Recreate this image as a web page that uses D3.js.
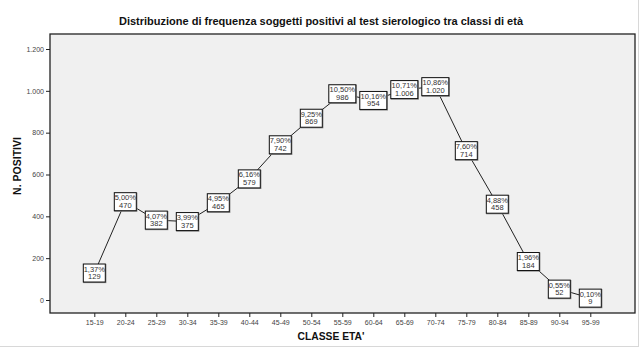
<!DOCTYPE html>
<html><head><meta charset="utf-8">
<script src="https://cdn.jsdelivr.net/npm/d3@7"></script>
<style>body{margin:0;background:#fff}svg{display:block}</style>
</head><body>
<script>
const categories = ["15-19","20-24","25-29","30-34","35-39","40-44","45-49","50-54","55-59","60-64","65-69","70-74","75-79","80-84","85-89","90-94","95-99"];
const counts = [129,470,382,375,465,579,742,869,986,954,1006,1020,714,458,184,52,9];
const percents = ["1,37%","5,00%","4,07%","3,99%","4,95%","6,16%","7,90%","9,25%","10,50%","10,16%","10,71%","10,86%","7,60%","4,88%","1,96%","0,55%","0,10%"];
const yTicks = [0,200,400,600,800,1000,1200];

const W = 642, H = 352;
const svg = d3.select("body").append("svg").attr("width", W).attr("height", H);
const frame = {l:50, t:34, r:635, b:313};
const FONT = "Liberation Sans, Arial, sans-serif";

// faint outer borders
svg.append("line").attr("x1",638.5).attr("x2",638.5).attr("y1",0).attr("y2",346).attr("stroke","#d8d8d8");
svg.append("line").attr("x1",0).attr("x2",639).attr("y1",346.5).attr("y2",346.5).attr("stroke","#d8d8d8");

svg.append("rect").attr("x",frame.l).attr("y",frame.t).attr("width",frame.r-frame.l).attr("height",frame.b-frame.t)
  .attr("fill","#f0f0f0").attr("stroke","#222").attr("stroke-width",1.3);

const x = d3.scalePoint().domain(categories).range([94.3, 590.3]);
const y = d3.scaleLinear().domain([0,1200]).range([300, 49]);

const fmt = v => d3.format(",")(v).replace(/,/g,".");

// axes
const yAxis = svg.append("g").attr("transform",`translate(${frame.l},0)`)
  .call(d3.axisLeft(y).tickValues(yTicks).tickSize(4).tickFormat(fmt));
const xAxis = svg.append("g").attr("transform",`translate(0,${frame.b})`)
  .call(d3.axisBottom(x).tickSize(4).tickPadding(3));
[yAxis,xAxis].forEach(a=>{
  a.select(".domain").remove();
  a.selectAll("line").attr("stroke","#222");
  a.selectAll("text").attr("font-family",FONT).attr("font-size",7).attr("fill","#444");
});
yAxis.selectAll("text").attr("dx",1);

// line
svg.append("path").datum(counts)
  .attr("d", d3.line().x((d,i)=>x(categories[i])).y(d=>y(d)))
  .attr("fill","none").attr("stroke","#222").attr("stroke-width",1);

// labels
const g = svg.append("g").selectAll("g").data(counts).join("g")
  .attr("transform",(d,i)=>`translate(${x(categories[i])},${y(d)})`);
const bw = i => percents[i].length > 5 ? 27 : 22;
g.append("rect").attr("x",(d,i)=>-bw(i)/2+0.5).attr("y",-8.5).attr("width",(d,i)=>bw(i)).attr("height",18)
  .attr("fill","none").attr("stroke","#888").attr("stroke-width",1.2);
g.append("rect").attr("x",(d,i)=>-bw(i)/2).attr("y",-9).attr("width",(d,i)=>bw(i)).attr("height",18)
  .attr("fill","#fff").attr("stroke","#111").attr("stroke-width",1);
g.append("text").attr("text-anchor","middle").attr("y",-1.5)
  .attr("font-family",FONT).attr("font-size",7.5).attr("fill","#333")
  .text((d,i)=>percents[i]);
g.append("text").attr("text-anchor","middle").attr("y",6)
  .attr("font-family",FONT).attr("font-size",7.5).attr("fill","#333")
  .text(d=>fmt(d));

// titles
svg.append("text").attr("x",321).attr("y",25).attr("text-anchor","middle")
  .attr("font-family",FONT).attr("font-weight","bold").attr("font-size",11).attr("fill","#111")
  .text("Distribuzione di frequenza soggetti positivi al test sierologico tra classi di età");
svg.append("text").attr("transform","translate(21,166) rotate(-90)").attr("text-anchor","middle")
  .attr("font-family",FONT).attr("font-weight","bold").attr("font-size",10.5).attr("fill","#111")
  .text("N. POSITIVI");
svg.append("text").attr("x",331).attr("y",340).attr("text-anchor","middle")
  .attr("font-family",FONT).attr("font-weight","bold").attr("font-size",10.3).attr("fill","#111")
  .text("CLASSE ETA'");
</script>
</body></html>
